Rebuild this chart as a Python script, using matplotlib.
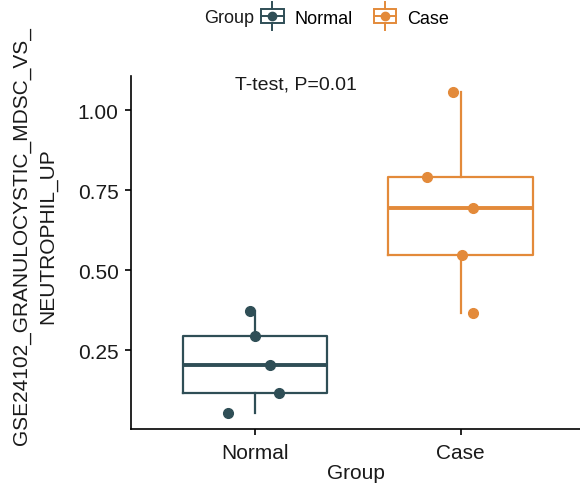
import matplotlib

matplotlib.use("Agg")
import matplotlib.pyplot as plt
from matplotlib.legend_handler import HandlerBase
from matplotlib.lines import Line2D
from matplotlib.patches import Rectangle

groups = ["Normal", "Case"]
colors = ["#2f4e56", "#e38a3a"]
normal_vals = [0.372, 0.294, 0.203, 0.116, 0.053]
normal_jitter = [0.976, 1.0, 1.073, 1.117, 0.869]
case_vals = [1.056, 0.790, 0.694, 0.547, 0.366]
case_jitter = [1.961, 1.835, 2.058, 2.005, 2.058]
yticks = [0.25, 0.50, 0.75, 1.00]
annot = "T-test, P=0.01"
ylabel = "GSE24102_GRANULOCYSTIC_MDSC_VS_\nNEUTROPHIL_UP"

plt.rcParams["font.family"] = ["Liberation Sans", "DejaVu Sans"]
FS_TICK = 15
FS_TITLE = 15
FS_ANNOT = 14
FS_LEG = 13
TXT = "#1a1a1a"


class BoxKeyHandler(HandlerBase):
    # ggplot-style boxplot legend key
    def create_artists(self, legend, orig_handle, xdescent, ydescent,
                       width, height, fontsize, trans):
        c = orig_handle.get_color()
        cx = width / 2 - xdescent
        cy = height / 2 - ydescent
        bw, bh = width * 0.95, height * 1.05
        rect = Rectangle((cx - bw / 2, cy - bh / 2), bw, bh, fill=False,
                         edgecolor=c, lw=1.4, transform=trans)
        med = Line2D([cx - bw / 2, cx + bw / 2], [cy, cy], color=c, lw=1.4,
                     transform=trans)
        wt = Line2D([cx, cx], [cy + bh / 2, cy + bh / 2 + height * 0.5],
                    color=c, lw=1.4, transform=trans)
        wb = Line2D([cx, cx], [cy - bh / 2, cy - bh / 2 - height * 0.5],
                    color=c, lw=1.4, transform=trans)
        dot = Line2D([cx], [cy], marker="o", markersize=6, color=c,
                     linestyle="none", transform=trans)
        return [rect, med, wt, wb, dot]


fig = plt.figure(figsize=(5.8, 4.85), dpi=100)
ax = fig.add_axes([0.226, 0.113, 0.774, 0.728])

data = [normal_vals, case_vals]
jitters = [normal_jitter, case_jitter]
for i, (vals, col) in enumerate(zip(data, colors)):
    ax.boxplot(
        [vals], positions=[i + 1], widths=0.7, whis=1.5, showfliers=False,
        boxprops=dict(color=col, lw=1.6),
        whiskerprops=dict(color=col, lw=1.6),
        capprops=dict(visible=False),
        medianprops=dict(color=col, lw=2.8),
    )
    ax.plot(jitters[i], vals, "o", color=col, markersize=7, zorder=3)

ax.set_xlim(0.4, 2.58)
ax.set_ylim(0.003, 1.106)
ax.set_xticks([1, 2])
ax.set_xticklabels(groups)
ax.set_yticks(yticks)
ax.set_yticklabels([f"{v:.2f}" for v in yticks])
ax.tick_params(labelsize=FS_TICK, length=4, width=1.2, colors="black",
               labelcolor=TXT, pad=5)
ax.tick_params(axis="x", pad=6)
for s in ["top", "right"]:
    ax.spines[s].set_visible(False)
for s in ["left", "bottom"]:
    ax.spines[s].set_linewidth(1.2)

ax.set_xlabel("Group", fontsize=FS_TITLE, color=TXT, labelpad=1)
ax.set_ylabel(ylabel, fontsize=FS_TITLE, color=TXT, linespacing=1.45)
ax.yaxis.set_label_coords(-0.165, 0.55)
ax.text(1.2, 1.08, annot, ha="center", va="center", fontsize=FS_ANNOT,
        color=TXT)

# legend on top: title to the left, keys in one row
handles = [Line2D([], [], color=c) for c in colors]
fig.legend(handles, groups, loc="center", bbox_to_anchor=(0.612, 0.961),
           ncol=2, frameon=False, fontsize=FS_LEG, handlelength=1.3,
           handleheight=0.8, handletextpad=0.6, columnspacing=1.1,
           borderaxespad=0, borderpad=0,
           handler_map={Line2D: BoxKeyHandler()})
fig.text(0.352, 0.961, "Group", ha="left", va="center", fontsize=FS_LEG,
         color=TXT)

fig.savefig("out.png", dpi=100)
